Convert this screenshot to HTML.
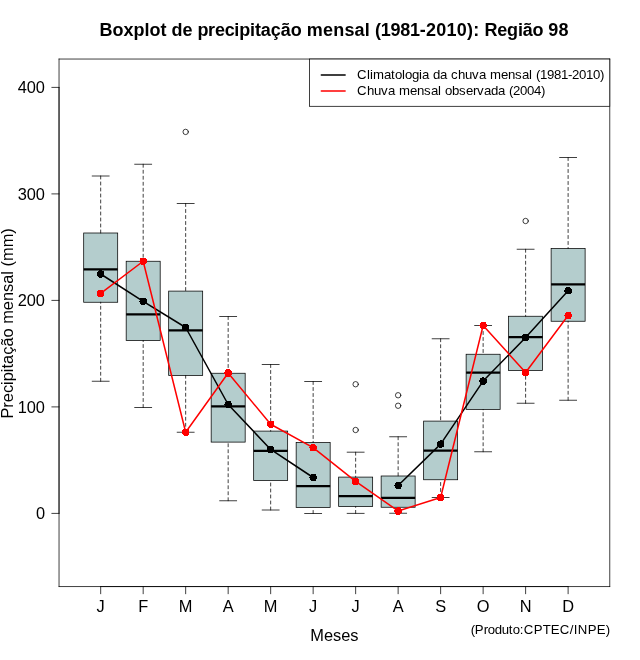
<!DOCTYPE html>
<html lang="pt"><head><meta charset="utf-8"><title>Boxplot de precipitação mensal (1981-2010): Região 98</title>
<style>html,body{margin:0;padding:0;background:#fff}body{width:640px;height:660px;overflow:hidden}svg{display:block}text{font-family:'Liberation Sans', sans-serif;fill:#000}</style>
</head><body>
<svg width="640" height="660" viewBox="0 0 640 660">
<rect x="0" y="0" width="640" height="660" fill="#fff"/>
<g fill="none" stroke="#000" stroke-width="0.75" stroke-linecap="round" stroke-linejoin="round">
<rect x="83.69" y="233.00" width="34.00" height="69.25" fill="#B4CDCD" stroke="none"/>
<line x1="83.69" y1="269.30" x2="117.68" y2="269.30" stroke-width="2.25" stroke-linecap="butt"/>
<line x1="100.68" y1="176.00" x2="100.68" y2="233.00" stroke-dasharray="3 3"/>
<line x1="100.68" y1="381.25" x2="100.68" y2="302.25" stroke-dasharray="3 3"/>
<line x1="92.19" y1="176.00" x2="109.18" y2="176.00"/>
<line x1="92.19" y1="381.25" x2="109.18" y2="381.25"/>
<rect x="83.69" y="233.00" width="34.00" height="69.25" stroke-linejoin="miter"/>
<rect x="126.18" y="261.25" width="34.00" height="79.25" fill="#B4CDCD" stroke="none"/>
<line x1="126.18" y1="314.25" x2="160.18" y2="314.25" stroke-width="2.25" stroke-linecap="butt"/>
<line x1="143.18" y1="164.25" x2="143.18" y2="261.25" stroke-dasharray="3 3"/>
<line x1="143.18" y1="407.50" x2="143.18" y2="340.50" stroke-dasharray="3 3"/>
<line x1="134.68" y1="164.25" x2="151.68" y2="164.25"/>
<line x1="134.68" y1="407.50" x2="151.68" y2="407.50"/>
<rect x="126.18" y="261.25" width="34.00" height="79.25" stroke-linejoin="miter"/>
<rect x="168.67" y="291.10" width="34.00" height="84.40" fill="#B4CDCD" stroke="none"/>
<line x1="168.67" y1="330.30" x2="202.67" y2="330.30" stroke-width="2.25" stroke-linecap="butt"/>
<line x1="185.67" y1="203.50" x2="185.67" y2="291.10" stroke-dasharray="3 3"/>
<line x1="185.67" y1="432.25" x2="185.67" y2="375.50" stroke-dasharray="3 3"/>
<line x1="177.17" y1="203.50" x2="194.17" y2="203.50"/>
<line x1="177.17" y1="432.25" x2="194.17" y2="432.25"/>
<rect x="168.67" y="291.10" width="34.00" height="84.40" stroke-linejoin="miter"/>
<circle cx="185.67" cy="131.90" r="2.7"/>
<rect x="211.17" y="373.25" width="34.00" height="68.85" fill="#B4CDCD" stroke="none"/>
<line x1="211.17" y1="406.25" x2="245.16" y2="406.25" stroke-width="2.25" stroke-linecap="butt"/>
<line x1="228.17" y1="316.50" x2="228.17" y2="373.25" stroke-dasharray="3 3"/>
<line x1="228.17" y1="500.75" x2="228.17" y2="442.10" stroke-dasharray="3 3"/>
<line x1="219.67" y1="316.50" x2="236.66" y2="316.50"/>
<line x1="219.67" y1="500.75" x2="236.66" y2="500.75"/>
<rect x="211.17" y="373.25" width="34.00" height="68.85" stroke-linejoin="miter"/>
<rect x="253.66" y="431.10" width="34.00" height="49.40" fill="#B4CDCD" stroke="none"/>
<line x1="253.66" y1="450.90" x2="287.66" y2="450.90" stroke-width="2.25" stroke-linecap="butt"/>
<line x1="270.66" y1="364.50" x2="270.66" y2="431.10" stroke-dasharray="3 3"/>
<line x1="270.66" y1="510.00" x2="270.66" y2="480.50" stroke-dasharray="3 3"/>
<line x1="262.16" y1="364.50" x2="279.16" y2="364.50"/>
<line x1="262.16" y1="510.00" x2="279.16" y2="510.00"/>
<rect x="253.66" y="431.10" width="34.00" height="49.40" stroke-linejoin="miter"/>
<rect x="296.16" y="442.60" width="34.00" height="64.90" fill="#B4CDCD" stroke="none"/>
<line x1="296.16" y1="486.00" x2="330.15" y2="486.00" stroke-width="2.25" stroke-linecap="butt"/>
<line x1="313.15" y1="381.50" x2="313.15" y2="442.60" stroke-dasharray="3 3"/>
<line x1="313.15" y1="513.50" x2="313.15" y2="507.50" stroke-dasharray="3 3"/>
<line x1="304.65" y1="381.50" x2="321.65" y2="381.50"/>
<line x1="304.65" y1="513.50" x2="321.65" y2="513.50"/>
<rect x="296.16" y="442.60" width="34.00" height="64.90" stroke-linejoin="miter"/>
<rect x="338.65" y="477.10" width="34.00" height="29.50" fill="#B4CDCD" stroke="none"/>
<line x1="338.65" y1="496.10" x2="372.64" y2="496.10" stroke-width="2.25" stroke-linecap="butt"/>
<line x1="355.65" y1="452.20" x2="355.65" y2="477.10" stroke-dasharray="3 3"/>
<line x1="355.65" y1="513.40" x2="355.65" y2="506.60" stroke-dasharray="3 3"/>
<line x1="347.15" y1="452.20" x2="364.15" y2="452.20"/>
<line x1="347.15" y1="513.40" x2="364.15" y2="513.40"/>
<rect x="338.65" y="477.10" width="34.00" height="29.50" stroke-linejoin="miter"/>
<circle cx="355.65" cy="384.25" r="2.7"/>
<circle cx="355.65" cy="430.00" r="2.7"/>
<rect x="381.14" y="476.00" width="34.00" height="31.25" fill="#B4CDCD" stroke="none"/>
<line x1="381.14" y1="497.75" x2="415.14" y2="497.75" stroke-width="2.25" stroke-linecap="butt"/>
<line x1="398.14" y1="436.75" x2="398.14" y2="476.00" stroke-dasharray="3 3"/>
<line x1="398.14" y1="513.25" x2="398.14" y2="507.25" stroke-dasharray="3 3"/>
<line x1="389.64" y1="436.75" x2="406.64" y2="436.75"/>
<line x1="389.64" y1="513.25" x2="406.64" y2="513.25"/>
<rect x="381.14" y="476.00" width="34.00" height="31.25" stroke-linejoin="miter"/>
<circle cx="398.14" cy="395.25" r="2.7"/>
<circle cx="398.14" cy="405.75" r="2.7"/>
<rect x="423.64" y="421.10" width="34.00" height="58.65" fill="#B4CDCD" stroke="none"/>
<line x1="423.64" y1="450.50" x2="457.63" y2="450.50" stroke-width="2.25" stroke-linecap="butt"/>
<line x1="440.63" y1="338.75" x2="440.63" y2="421.10" stroke-dasharray="3 3"/>
<line x1="440.63" y1="497.50" x2="440.63" y2="479.75" stroke-dasharray="3 3"/>
<line x1="432.14" y1="338.75" x2="449.13" y2="338.75"/>
<line x1="432.14" y1="497.50" x2="449.13" y2="497.50"/>
<rect x="423.64" y="421.10" width="34.00" height="58.65" stroke-linejoin="miter"/>
<rect x="466.13" y="354.25" width="34.00" height="55.15" fill="#B4CDCD" stroke="none"/>
<line x1="466.13" y1="372.50" x2="500.13" y2="372.50" stroke-width="2.25" stroke-linecap="butt"/>
<line x1="483.13" y1="325.50" x2="483.13" y2="354.25" stroke-dasharray="3 3"/>
<line x1="483.13" y1="451.75" x2="483.13" y2="409.40" stroke-dasharray="3 3"/>
<line x1="474.63" y1="325.50" x2="491.63" y2="325.50"/>
<line x1="474.63" y1="451.75" x2="491.63" y2="451.75"/>
<rect x="466.13" y="354.25" width="34.00" height="55.15" stroke-linejoin="miter"/>
<rect x="508.62" y="316.25" width="34.00" height="54.25" fill="#B4CDCD" stroke="none"/>
<line x1="508.62" y1="337.00" x2="542.62" y2="337.00" stroke-width="2.25" stroke-linecap="butt"/>
<line x1="525.62" y1="249.25" x2="525.62" y2="316.25" stroke-dasharray="3 3"/>
<line x1="525.62" y1="403.25" x2="525.62" y2="370.50" stroke-dasharray="3 3"/>
<line x1="517.12" y1="249.25" x2="534.12" y2="249.25"/>
<line x1="517.12" y1="403.25" x2="534.12" y2="403.25"/>
<rect x="508.62" y="316.25" width="34.00" height="54.25" stroke-linejoin="miter"/>
<circle cx="525.62" cy="221.00" r="2.7"/>
<rect x="551.12" y="248.50" width="34.00" height="72.75" fill="#B4CDCD" stroke="none"/>
<line x1="551.12" y1="284.25" x2="585.11" y2="284.25" stroke-width="2.25" stroke-linecap="butt"/>
<line x1="568.12" y1="157.50" x2="568.12" y2="248.50" stroke-dasharray="3 3"/>
<line x1="568.12" y1="400.25" x2="568.12" y2="321.25" stroke-dasharray="3 3"/>
<line x1="559.62" y1="157.50" x2="576.61" y2="157.50"/>
<line x1="559.62" y1="400.25" x2="576.61" y2="400.25"/>
<rect x="551.12" y="248.50" width="34.00" height="72.75" stroke-linejoin="miter"/>
</g>
<g fill="none" stroke="#000" stroke-width="0.75" stroke-linecap="round" stroke-linejoin="round">
<path d="M100.68 586.56H568.12"/>
<path d="M100.68 586.56v7.2"/>
<path d="M143.18 586.56v7.2"/>
<path d="M185.67 586.56v7.2"/>
<path d="M228.17 586.56v7.2"/>
<path d="M270.66 586.56v7.2"/>
<path d="M313.15 586.56v7.2"/>
<path d="M355.65 586.56v7.2"/>
<path d="M398.14 586.56v7.2"/>
<path d="M440.63 586.56v7.2"/>
<path d="M483.13 586.56v7.2"/>
<path d="M525.62 586.56v7.2"/>
<path d="M568.12 586.56v7.2"/>
<path d="M59.04 513.40V87.40"/>
<path d="M59.04 513.40h-7.2"/>
<path d="M59.04 406.90h-7.2"/>
<path d="M59.04 300.40h-7.2"/>
<path d="M59.04 193.90h-7.2"/>
<path d="M59.04 87.40h-7.2"/>
<line x1="59.04" y1="59.04" x2="609.76" y2="59.04"/>
<line x1="609.76" y1="59.04" x2="609.76" y2="586.56"/>
<line x1="609.76" y1="586.56" x2="59.04" y2="586.56"/>
<line x1="59.04" y1="586.56" x2="59.04" y2="59.04"/>
</g>
<g font-size="16.4">
<text x="100.68" y="611.8" text-anchor="middle">J</text>
<text x="143.18" y="611.8" text-anchor="middle">F</text>
<text x="185.67" y="611.8" text-anchor="middle">M</text>
<text x="228.17" y="611.8" text-anchor="middle">A</text>
<text x="270.66" y="611.8" text-anchor="middle">M</text>
<text x="313.15" y="611.8" text-anchor="middle">J</text>
<text x="355.65" y="611.8" text-anchor="middle">J</text>
<text x="398.14" y="611.8" text-anchor="middle">A</text>
<text x="440.63" y="611.8" text-anchor="middle">S</text>
<text x="483.13" y="611.8" text-anchor="middle">O</text>
<text x="525.62" y="611.8" text-anchor="middle">N</text>
<text x="568.12" y="611.8" text-anchor="middle">D</text>
<text x="45.0" y="519.00" text-anchor="end">0</text>
<text x="45.0" y="412.50" text-anchor="end">100</text>
<text x="45.0" y="306.00" text-anchor="end">200</text>
<text x="45.0" y="199.50" text-anchor="end">300</text>
<text x="45.0" y="93.00" text-anchor="end">400</text>
</g>
<text x="99.41 112.4 123.4 133.41 144.41 149.41 160.4 166.4 171.4 182.4 192.4 197.4 208.09 214.9 224.64 234.37 239.23 249.93 254.91 260.87 270.84 280.81 290.77 301.72 306.7 322.99 333.2 344.4 354.59 364.79 369.88 374.98 380.81 390.56 400.29 410.03 419.77 425.92 436.22 446.51 456.79 467.08 473.25 479.4 484.54 497.29 507.11 517.9 522.8 532.61 543.4 548.3 558.57" y="36.2" font-size="18" font-weight="bold">Boxplot de precipitação mensal (1981-2010): Região 98</text>
<text x="334.4" y="640.8" text-anchor="middle" font-size="16.4">Meses</text>
<text transform="translate(13.2 323.4) rotate(-90)" text-anchor="middle" font-size="16.4">Precipitação mensal (mm)</text>
<polyline fill="none" stroke="#000" stroke-width="1.5" stroke-linecap="round" stroke-linejoin="round" points="100.68,274.00 143.18,301.40 185.67,327.50 228.17,404.50 270.66,449.40 313.15,477.50"/>
<polyline fill="none" stroke="#000" stroke-width="1.5" stroke-linecap="round" stroke-linejoin="round" points="398.14,485.50 440.63,444.10 483.13,381.10 525.62,337.50 568.12,290.70"/>
<g fill="#000" shape-rendering="crispEdges">
<circle cx="100.68" cy="274.00" r="3.75"/>
<circle cx="143.18" cy="301.40" r="3.75"/>
<circle cx="185.67" cy="327.50" r="3.75"/>
<circle cx="228.17" cy="404.50" r="3.75"/>
<circle cx="270.66" cy="449.40" r="3.75"/>
<circle cx="313.15" cy="477.50" r="3.75"/>
<circle cx="398.14" cy="485.50" r="3.75"/>
<circle cx="440.63" cy="444.10" r="3.75"/>
<circle cx="483.13" cy="381.10" r="3.75"/>
<circle cx="525.62" cy="337.50" r="3.75"/>
<circle cx="568.12" cy="290.70" r="3.75"/>
</g>
<polyline fill="none" stroke="#f00" stroke-width="1.5" stroke-linecap="round" stroke-linejoin="round" points="100.68,293.35 143.18,261.25 185.67,432.25 228.17,373.00 270.66,424.25 313.15,447.60 355.65,481.40 398.14,511.00 440.63,497.50 483.13,325.50 525.62,372.50 568.12,315.50"/>
<g fill="#f00" shape-rendering="crispEdges">
<circle cx="100.68" cy="293.35" r="3.75"/>
<circle cx="143.18" cy="261.25" r="3.75"/>
<circle cx="185.67" cy="432.25" r="3.75"/>
<circle cx="228.17" cy="373.00" r="3.75"/>
<circle cx="270.66" cy="424.25" r="3.75"/>
<circle cx="313.15" cy="447.60" r="3.75"/>
<circle cx="355.65" cy="481.40" r="3.75"/>
<circle cx="398.14" cy="511.00" r="3.75"/>
<circle cx="440.63" cy="497.50" r="3.75"/>
<circle cx="483.13" cy="325.50" r="3.75"/>
<circle cx="525.62" cy="372.50" r="3.75"/>
<circle cx="568.12" cy="315.50" r="3.75"/>
</g>
<rect x="309.50" y="59.04" width="300.26" height="47.26" fill="#fff" stroke="#000" stroke-width="0.75"/>
<path d="M321.3 75H345.1" stroke="#000" stroke-width="1.5" stroke-linecap="round"/>
<path d="M321.3 90.9H345.1" stroke="#f00" stroke-width="1.5" stroke-linecap="round"/>
<g font-size="13.2">
<text x="356.9 366.9 369.9 372.9 383.9 390.9 394.9 401.9 404.9 411.9 418.9 421.9 428.9 432.9 439.9 446.9 450.9 457.9 464.9 471.9 478.9 485.9 489.9 500.9 507.9 514.9 521.9 528.9 531.9 535.9 539.9 546.9 553.9 560.9 567.9 571.9 578.9 585.9 592.9 599.9" y="78.8">Climatologia da chuva mensal (1981-2010)</text>
<text x="356.9 366.9 373.9 380.9 387.9 394.9 398.9 409.9 416.9 423.9 430.9 437.9 440.9 444.9 451.9 458.9 465.9 472.9 476.9 483.9 490.9 497.9 504.9 508.9 512.9 519.9 526.9 533.9 540.9" y="94.6">Chuva mensal observada (2004)</text>
<text x="470.76 474.76 483.76 487.76 494.76 501.76 508.76 512.76 519.76 523.76 533.76 542.76 550.76 559.76 569.76 573.76 577.76 587.76 596.76 605.76" y="634.3">(Produto:CPTEC/INPE)</text>
</g>
</svg>
</body></html>
